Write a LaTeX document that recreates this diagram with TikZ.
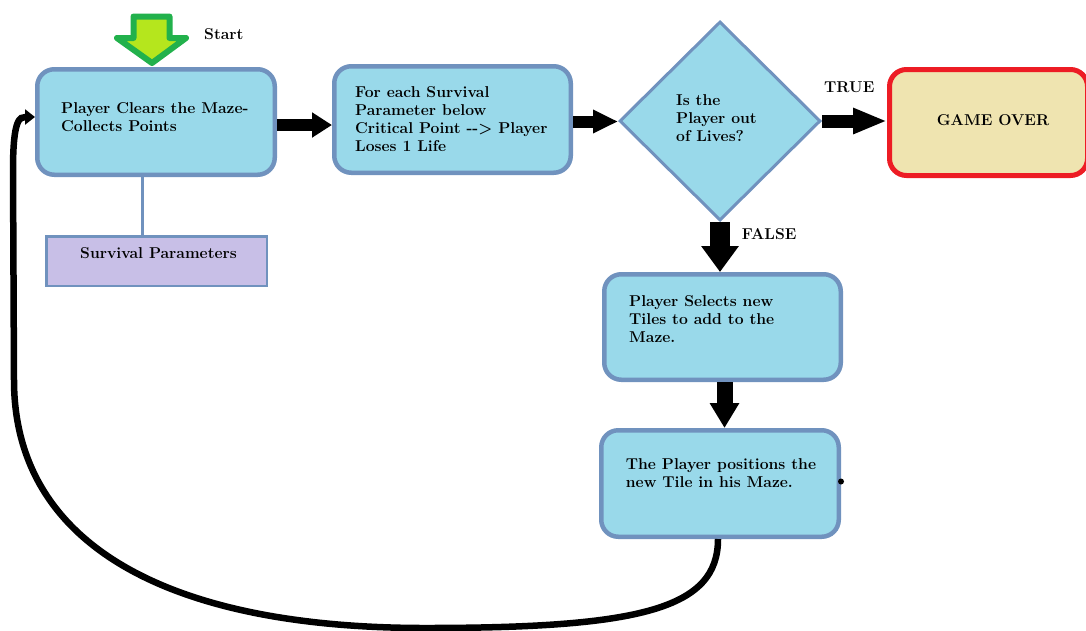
\documentclass[tikz,border=0pt]{standalone}
\usepackage{fontspec}
\usetikzlibrary{arrows.meta,shapes.geometric}
\definecolor{boxfill}{HTML}{99D9EA}
\definecolor{boxedge}{HTML}{7092BE}
\definecolor{purp}{HTML}{C8BFE7}
\definecolor{beige}{HTML}{EFE4B0}
\definecolor{redc}{HTML}{ED1C24}
\definecolor{greenc}{HTML}{22B14C}
\definecolor{limec}{HTML}{B5E61D}
\tikzset{
  box/.style={draw=boxedge, fill=boxfill, line width=4.5pt, rounded corners=17pt, inner sep=0pt},
  txt/.style={inner sep=0pt, align=left, font=\fontsize{15.7}{18}\selectfont\bfseries},
  conn/.style={draw=boxedge, line width=2.5pt},
  arr/.style={draw=black, line width=#1},
}
\begin{document}
\begin{tikzpicture}[x=1pt,y=-1pt]
\useasboundingbox (0,0) rectangle (1086,630);
% boxes
\node[box, minimum width=237.5pt, minimum height=105.5pt] (b1) at (156,122) {};
\node[box, minimum width=236.5pt, minimum height=106.5pt] (b2) at (452.5,119.5) {};
\node[draw=boxedge, fill=boxfill, line width=3pt, diamond, inner sep=0pt, minimum width=201pt, minimum height=199pt] (dia) at (720,121) {};
\node[draw=redc, fill=beige, line width=5pt, rounded corners=17pt, inner sep=0pt, minimum width=198pt, minimum height=106pt] (go) at (988.5,122.5) {};
\node[box, minimum width=236.5pt, minimum height=105.5pt] (b3) at (722.5,327) {};
\node[box, minimum width=237.5pt, minimum height=106.5pt] (b4) at (720,483.5) {};
\node[draw=boxedge, fill=purp, line width=2.5pt, inner sep=0pt, minimum width=220.5pt, minimum height=49.5pt] (sv) at (156.5,261) {};
% texts
\node[txt, anchor=north west] (t1) at (61,102.1) {Player Clears the Maze-\\Collects Points};
\node[txt, anchor=north west] (t2) at (355,86.8) {For each Survival\\Parameter below\\Critical Point -{}-> Player\\Loses 1 Life};
\node[txt, anchor=north west] (t3) at (676,94.8) {Is the\\Player out\\of Lives?};
\node[txt, anchor=base] (t4) at (993,125) {GAME OVER};
\node[txt, anchor=north west] (t5) at (629,295.1) {Player Selects new\\Tiles to add to the\\Maze.};
\node[txt, anchor=north west] (t6) at (625.7,458.4) {The Player positions the\\new Tile in his Maze.};
\node[txt, anchor=base west] (t7) at (80,258.3) {Survival Parameters};
\node[txt, anchor=base west] (lstart) at (204,39) {Start};
\node[txt, anchor=base west] (ltrue) at (824,92.3) {TRUE};
\node[txt, anchor=base west] (lfalse) at (741.7,239.3) {FALSE};
% start arrow
\draw[greenc, fill=limec, line width=6pt, line join=round]
  (133.5,16.5) -- (169.5,16.5) -- (169.5,38) -- (186,38) -- (152,63) -- (117,38) -- (133.5,38) -- cycle;
% survival connector
\path ([xshift=-13.3pt]b1.south) coordinate (c0);
\draw[conn] (c0) -- (c0 |- sv.north);
% arrows
\path ([yshift=-3pt]b1.east) coordinate (c1);
\draw[arr=12pt, -{Triangle[length=20pt,width=24pt]}] (c1) -- (c1 -| b2.west);
\path ([yshift=-2pt]b2.east) coordinate (c2);
\draw[arr=12pt, -{Triangle[length=25pt,width=22pt]}] (c2) -- (c2 -| dia.west);
\draw[arr=13pt, -{Triangle[length=34pt,width=24pt]}] (dia.east) -- (dia.east -| go.west);
\draw[arr=20pt, -{Triangle[length=26pt,width=36pt]}] (dia.south) -- (dia.south |- b3.north);
\path ([xshift=2pt]b3.south) coordinate (c3);
\draw[arr=16pt, -{Triangle[length=25pt,width=28pt]}] (c3) -- (c3 |- b4.north);
% loop back
\path ([xshift=-2pt]b4.south) coordinate (c4);
\path ([yshift=5pt]b1.west) coordinate (c5);
\draw[arr=6.5pt, -{Triangle[length=10pt,width=15pt]}]
  (c4) .. controls +(0,70) and (640,628) .. (425,628)
  .. controls (160,628) and (14,540) .. (14,380)
  -- (13,170) .. controls (13,118) and (20,117) .. (c5);
% small mark on box 4
\fill[black] (b4.east) ++(0,-2) circle (3pt);
\end{tikzpicture}
\end{document}
